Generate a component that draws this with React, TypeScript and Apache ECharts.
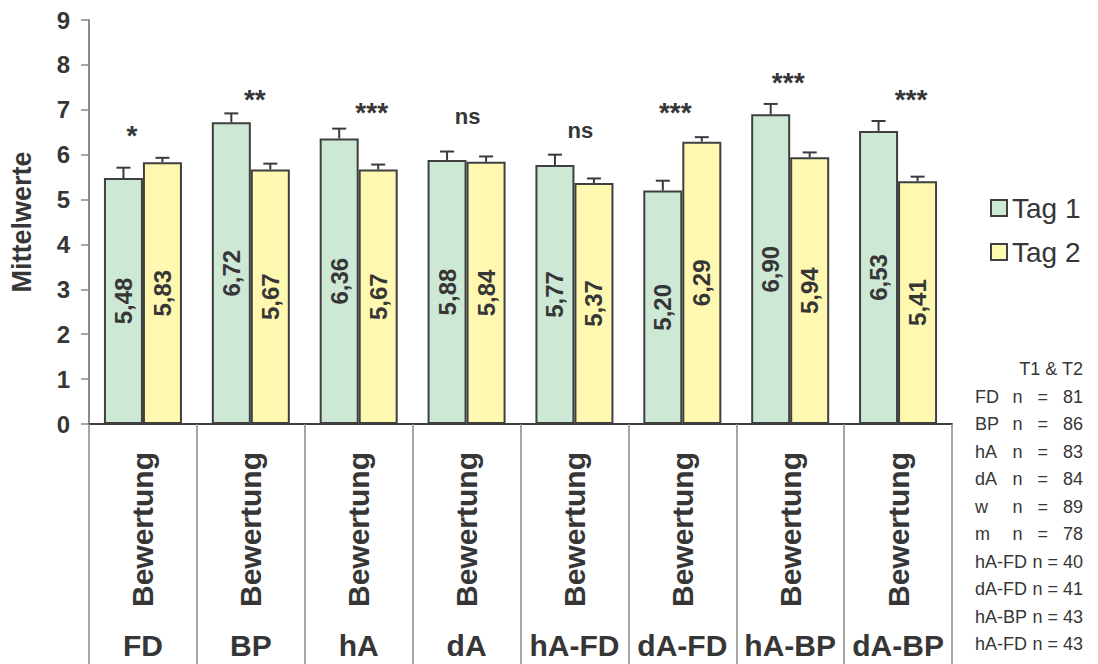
import React, { useEffect, useRef } from "react";
import * as echarts from "echarts";

const categories = ["FD", "BP", "hA", "dA", "hA-FD", "dA-FD", "hA-BP", "dA-BP"];
const seriesNames = ["Tag 1", "Tag 2"];
const tag1 = [5.48, 6.72, 6.36, 5.88, 5.77, 5.2, 6.9, 6.53];
const tag2 = [5.83, 5.67, 5.67, 5.84, 5.37, 6.29, 5.94, 5.41];
const tag1Err = [0.23, 0.2, 0.22, 0.19, 0.23, 0.22, 0.23, 0.22];
const tag2Err = [0.1, 0.13, 0.11, 0.12, 0.1, 0.1, 0.11, 0.1];
const sigLabels = ["*", "**", "***", "ns", "ns", "***", "***", "***"];
const sigLevels = [6.42, 7.22, 6.95, 6.86, 6.53, 6.95, 7.6, 7.24];
const sigNudge = [-11, 4, 13, 1, 6, -7, -2, 13];
const subLabel = "Bewertung";
const yTicks = [0, 1, 2, 3, 4, 5, 6, 7, 8, 9];
const tableHeader = "T1 & T2";
const tableGroups = ["FD", "BP", "hA", "dA", "w", "m", "hA-FD", "dA-FD", "hA-BP", "hA-FD"];
const tableN = [81, 86, 83, 84, 89, 78, 40, 41, 43, 43];

const FONT = "'Liberation Sans', Arial, Helvetica, sans-serif";
const TEXT = "#363636";
const GREEN = "#cde8d5";
const YELLOW = "#fff8b0";
const BORDER = "#3f3f3f";
const BAR_W = 39;

export default function App() {
  const ref = useRef<HTMLDivElement>(null);
  useEffect(() => {
    if (!ref.current) return;
    const chart = echarts.init(ref.current, null, { renderer: "svg" });

    const errData = [
      ...tag1.map((v, i) => [i, v, tag1Err[i], -1]),
      ...tag2.map((v, i) => [i, v, tag2Err[i], 1]),
    ];
    const sigData = sigLabels.map((s, i) => [i, sigLevels[i], sigNudge[i]]);

    const tableGraphics: any[] = [];
    const rowY0 = 369;
    const rowStep = 27.5;
    const tFont = `18px ${FONT}`;
    tableGraphics.push({
      type: "text",
      x: 1083,
      y: rowY0,
      style: { text: tableHeader, align: "right", verticalAlign: "middle", font: tFont, fill: TEXT },
    });
    tableGroups.forEach((g, i) => {
      const y = rowY0 + rowStep * (i + 1);
      const sp = g.length > 2 ? " " : "   ";
      tableGraphics.push({
        type: "text",
        x: 975,
        y,
        style: { text: g, align: "left", verticalAlign: "middle", font: tFont, fill: TEXT },
      });
      tableGraphics.push({
        type: "text",
        x: 1083,
        y,
        style: {
          text: `n${sp}=${sp}${tableN[i]}`,
          align: "right",
          verticalAlign: "middle",
          font: tFont,
          fill: TEXT,
          whiteSpace: "pre",
        },
      });
    });

    const fmt = (v: number) => v.toFixed(2).replace(".", ",");

    chart.setOption({
      animation: false,
      backgroundColor: "#ffffff",
      textStyle: { fontFamily: FONT },
      grid: { left: 89, right: 146, top: 20, bottom: 240, containLabel: false, outerBoundsMode: "none" },
      legend: {
        data: seriesNames,
        orient: "vertical",
        left: 985,
        top: 189,
        itemWidth: 16,
        itemHeight: 16,
        itemGap: 16,
        icon: "rect",
        textStyle: { fontSize: 28, color: TEXT, fontFamily: FONT },
      },
      xAxis: [
        {
          type: "category",
          data: categories,
          position: "bottom",
          axisLine: { show: true, lineStyle: { color: "#404040", width: 2 } },
          axisTick: { show: true, interval: 0, length: 240, lineStyle: { color: "#8a8a8a", width: 1.5 } },
          axisLabel: {
            interval: 0,
            rotate: 90,
            margin: 28,
            formatter: () => subLabel,
            fontSize: 30,
            fontWeight: "bold",
            color: TEXT,
            fontFamily: FONT,
          },
        },
        {
          type: "category",
          data: categories,
          position: "bottom",
          offset: 0,
          axisLine: { show: false },
          axisTick: { show: false },
          axisLabel: {
            interval: 0,
            margin: 206,
            fontSize: 30,
            fontWeight: "bold",
            color: TEXT,
            fontFamily: FONT,
          },
        },
      ],
      yAxis: {
        type: "value",
        min: yTicks[0],
        max: yTicks[yTicks.length - 1],
        interval: 1,
        name: "Mittelwerte",
        nameLocation: "middle",
        nameRotate: 90,
        nameGap: 54,
        nameTextStyle: { fontSize: 27, fontWeight: "bold", color: TEXT, fontFamily: FONT },
        axisLine: { show: true, lineStyle: { color: "#8a8a8a", width: 2 } },
        axisTick: { show: true, length: 8, lineStyle: { color: "#8a8a8a", width: 1.5 } },
        splitLine: { show: false },
        axisLabel: { fontSize: 24, fontWeight: "bold", color: TEXT, margin: 19, fontFamily: FONT },
      },
      series: [
        {
          name: seriesNames[0],
          type: "bar",
          data: tag1,
          barWidth: BAR_W,
          barGap: "0%",
          itemStyle: { color: GREEN, borderColor: BORDER, borderWidth: 2 },
          label: {
            show: true,
            position: "inside",
            rotate: 90,
            formatter: (p: any) => fmt(p.value),
            fontSize: 24,
            fontWeight: "bold",
            color: TEXT,
            fontFamily: FONT,
          },
          z: 2,
        },
        {
          name: seriesNames[1],
          type: "bar",
          data: tag2,
          barWidth: BAR_W,
          barGap: "0%",
          itemStyle: { color: YELLOW, borderColor: BORDER, borderWidth: 2 },
          label: {
            show: true,
            position: "inside",
            rotate: 90,
            formatter: (p: any) => fmt(p.value),
            fontSize: 24,
            fontWeight: "bold",
            color: TEXT,
            fontFamily: FONT,
          },
          z: 2,
        },
        {
          name: "err",
          type: "custom",
          xAxisIndex: 0,
          data: errData,
          encode: { x: 0, y: 1 },
          z: 3,
          silent: true,
          renderItem: (params: any, api: any) => {
            const i = api.value(0);
            const v = api.value(1);
            const e = api.value(2);
            const side = api.value(3);
            const base = api.coord([i, v]);
            const top = api.coord([i, v + e]);
            const x = base[0] + side * (BAR_W / 2);
            const st = { stroke: "#3a3a3a", lineWidth: 2 };
            return {
              type: "group",
              children: [
                { type: "line", shape: { x1: x, y1: base[1], x2: x, y2: top[1] }, style: st },
                { type: "line", shape: { x1: x - 7, y1: top[1], x2: x + 7, y2: top[1] }, style: st },
              ],
            };
          },
        },
        {
          name: "sig",
          type: "custom",
          xAxisIndex: 0,
          data: sigData,
          encode: { x: 0, y: 1 },
          z: 4,
          silent: true,
          renderItem: (params: any, api: any) => {
            const i = api.value(0);
            const p = api.coord([i, api.value(1)]);
            const label = sigLabels[params.dataIndex];
            const size = label === "ns" ? 22 : 28;
            return {
              type: "text",
              x: p[0] + api.value(2),
              y: p[1],
              style: {
                text: label,
                align: "center",
                verticalAlign: "middle",
                font: `bold ${size}px ${FONT}`,
                fill: TEXT,
              },
            };
          },
        },
      ],
      graphic: tableGraphics,
    });
    return () => chart.dispose();
  }, []);
  return (
    <div
      ref={ref}
      style={{ position: "absolute", left: 0, top: 0, width: 1098, height: 664, background: "#fff" }}
    />
  );
}
